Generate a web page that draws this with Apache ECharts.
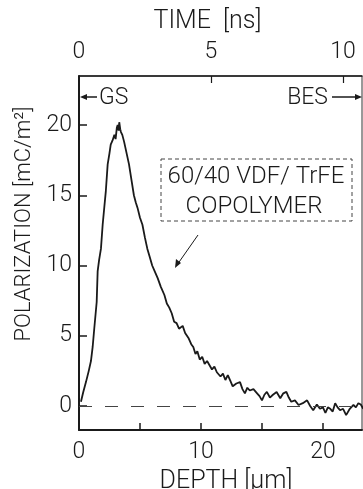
<!DOCTYPE html>
<html>
<head>
<meta charset="utf-8">
<script src="https://cdn.jsdelivr.net/npm/echarts@6/dist/echarts.min.js"></script>
<style>
html,body{margin:0;padding:0;background:#fff;}
#c{width:363px;height:489px;}
</style>
</head>
<body>
<div id="c"></div>
<script>
// Depth (µm) and polarization (mC/m²)
var depthUm = [0.16,0.35,0.57,0.8,0.98,1.12,1.25,1.45,1.53,1.65,1.8,1.94,2.08,2.2,2.35,2.5,2.6,2.75,2.9,3.0,
  3.1,3.17,3.25,3.3,3.38,3.44,3.55,3.7,3.9,4.1,4.3,4.5,4.65,4.8,5.0,5.2,5.4,5.6,5.8,6.0,
  6.2,6.45,6.7,7.0,7.2,7.4,7.6,7.8,8.0,8.2,8.35,8.5,8.7,8.85,9.0,9.2,9.37,9.55,9.7,9.9,
  10.1,10.3,10.5,10.7,10.9,11.1,11.3,11.6,11.8,12.0,12.2,12.4,12.6,12.9,13.2,13.4,13.6,13.8,14.0,14.3,
  14.6,14.8,15.0,15.2,15.4,15.65,15.9,16.2,16.5,16.75,17.0,17.2,17.4,17.7,18.0,18.35,18.7,18.95,19.2,19.5,
  19.75,20.0,20.2,20.4,20.6,20.8,21.0,21.2,21.4,21.65,21.9,22.2,22.5,22.7,22.9,23.1,23.3];
var polarization = [0.3,1.0,1.7,2.5,3.2,4.2,5.5,7.4,9.6,10.4,11.2,12.9,14.2,15.3,17.2,18.0,18.6,18.9,19.3,19.0,
  19.8,20.0,19.6,20.2,19.7,19.5,19.3,18.8,18.0,17.2,16.1,15.0,14.5,14.1,13.4,12.9,12.0,11.2,10.6,10.0,
  9.6,9.1,8.5,7.9,7.3,7.0,6.6,6.0,5.9,5.5,5.6,5.7,5.2,5.2,4.8,4.4,4.2,3.7,3.9,3.3,
  3.5,3.0,3.2,2.9,2.6,2.8,2.4,2.1,2.3,1.85,2.2,1.8,1.4,1.6,1.7,1.2,0.9,1.3,1.1,1.2,
  0.9,0.7,0.4,0.8,1.0,0.6,0.8,1.0,0.55,0.9,1.0,0.6,0.3,0.4,0.07,0.2,0.4,0.0,-0.3,0.1,
  -0.2,-0.1,-0.5,-0.1,-0.2,-0.4,0.2,-0.1,-0.3,-0.2,-0.65,-0.2,0.07,-0.1,0.2,0.1,-0.2];

var depthLabels = [0, 10, 20];
var depthTicks = [5, 10, 15, 20];
var timeTicks = [0, 5, 10];
var polTicks = [0, 5, 10, 15, 20];

var FONT = 'Roboto';
var FW = 300;
var INK = '#1a1a1a';

var seriesData = depthUm.map(function (d, i) { return [d, polarization[i]]; });

var chart = echarts.init(document.getElementById('c'), null, {renderer: 'canvas'});
chart.setOption({
  animation: false,
  backgroundColor: '#fff',
  grid: {left: 79, right: 1, top: 76, bottom: 59, show: true, borderColor: '#333', borderWidth: 1,
    containLabel: false, outerBoundsMode: 'none'},
  xAxis: [{
    type: 'value', position: 'bottom', min: 0, max: 23.2,
    axisLine: {show: true, onZero: false, lineStyle: {color: INK, width: 2}},
    axisTick: {show: true, inside: true, length: 7, customValues: depthTicks, lineStyle: {color: INK, width: 1.5}},
    axisLabel: {customValues: depthLabels, margin: 11, fontSize: 23, fontFamily: FONT, fontWeight: FW, color: INK},
    splitLine: {show: false},
    name: 'DEPTH [µm]', nameLocation: 'middle', nameGap: 35,
    nameTextStyle: {fontSize: 25, fontFamily: FONT, fontWeight: FW, color: INK, padding: [0, 0, 0, 11]}
  }, {
    type: 'value', position: 'top', min: 0, max: 10.72,
    axisLine: {show: true, onZero: false, lineStyle: {color: INK, width: 1.5}},
    axisTick: {show: true, inside: true, length: 7, customValues: [5, 10], lineStyle: {color: INK, width: 1.2}},
    axisLabel: {customValues: timeTicks, margin: 12, fontSize: 23, fontFamily: FONT, fontWeight: FW, color: INK},
    splitLine: {show: false},
    name: 'TIME  [ns]', nameLocation: 'middle', nameGap: 42,
    nameTextStyle: {fontSize: 25, fontFamily: FONT, fontWeight: FW, color: INK, padding: [0, 26, 0, 0]}
  }],
  yAxis: [{
    type: 'value', min: -1.71, max: 23.49,
    axisLine: {show: true, onZero: false, lineStyle: {color: INK, width: 2}},
    axisTick: {show: true, inside: true, length: 8, customValues: polTicks, lineStyle: {color: INK, width: 1.5}},
    axisLabel: {customValues: polTicks, margin: 7, fontSize: 23, fontFamily: FONT, fontWeight: FW, color: INK},
    splitLine: {show: false},
    name: 'POLARIZATION [mC/m²]', nameLocation: 'middle', nameGap: 43, nameRotate: 90,
    nameTextStyle: {fontSize: 22, fontFamily: FONT, fontWeight: FW, color: INK, padding: [0, 0, 0, 58]}
  }],
  series: [{
    type: 'line', xAxisIndex: 0, yAxisIndex: 0,
    data: seriesData, showSymbol: false, smooth: false,
    lineStyle: {color: INK, width: 1.8},
    markLine: {
      silent: true, symbol: ['none', 'none'], label: {show: false},
      lineStyle: {color: '#444', width: 1.2, type: [13, 13]},
      data: [{yAxis: 0}]
    }
  }],
  graphic: [
    {type: 'rect', shape: {x: 161, y: 159, width: 191, height: 62},
      style: {fill: 'none', stroke: '#444', lineWidth: 1, lineDash: [4, 3]}},
    {type: 'text', x: 256, y: 177, style: {text: '60/40 VDF/ TrFE', fontSize: 24, fontFamily: FONT, fontWeight: FW, fill: INK, align: 'center', verticalAlign: 'middle'}},
    {type: 'text', x: 254, y: 207, style: {text: 'COPOLYMER', fontSize: 24, fontFamily: FONT, fontWeight: FW, fill: INK, align: 'center', verticalAlign: 'middle'}},
    {type: 'line', shape: {x1: 198, y1: 235, x2: 177, y2: 265}, style: {stroke: INK, lineWidth: 1}},
    {type: 'polygon', shape: {points: [[175, 268], [176, 259], [181, 263]]}, style: {fill: INK}},
    {type: 'line', shape: {x1: 84, y1: 97, x2: 97, y2: 97}, style: {stroke: INK, lineWidth: 1.5}},
    {type: 'polygon', shape: {points: [[80, 97], [87, 94], [87, 100]]}, style: {fill: INK}},
    {type: 'text', x: 99, y: 98, style: {text: 'GS', fontSize: 23, fontFamily: FONT, fontWeight: FW, fill: INK, align: 'left', verticalAlign: 'middle'}},
    {type: 'text', x: 328, y: 98, style: {text: 'BES', fontSize: 23, fontFamily: FONT, fontWeight: FW, fill: INK, align: 'right', verticalAlign: 'middle'}},
    {type: 'line', shape: {x1: 332, y1: 97, x2: 356, y2: 97}, style: {stroke: INK, lineWidth: 1.5}},
    {type: 'polygon', shape: {points: [[362, 97], [355, 94], [355, 100]]}, style: {fill: INK}}
  ]
});
</script>
</body>
</html>
